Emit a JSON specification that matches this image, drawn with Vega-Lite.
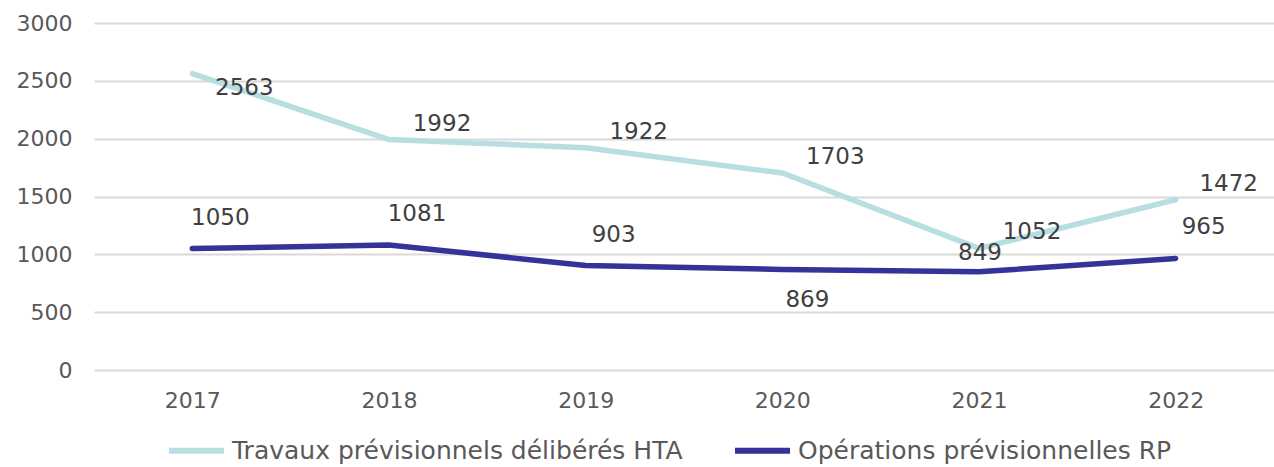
{
  "$schema": "https://vega.github.io/schema/vega-lite/v6.json",
  "autosize": "none",
  "padding": {"left": 94, "top": 23, "right": 0, "bottom": 97},
  "width": 1180,
  "height": 347,
  "background": "white",
  "config": {"view": {"stroke": null}},
  "data": {"values": [
    {"year": "2017", "series": "Travaux prévisionnels délibérés HTA", "value": 2563},
    {"year": "2018", "series": "Travaux prévisionnels délibérés HTA", "value": 1992},
    {"year": "2019", "series": "Travaux prévisionnels délibérés HTA", "value": 1922},
    {"year": "2020", "series": "Travaux prévisionnels délibérés HTA", "value": 1703},
    {"year": "2021", "series": "Travaux prévisionnels délibérés HTA", "value": 1052},
    {"year": "2022", "series": "Travaux prévisionnels délibérés HTA", "value": 1472},
    {"year": "2017", "series": "Opérations prévisionnelles RP", "value": 1050},
    {"year": "2018", "series": "Opérations prévisionnelles RP", "value": 1081},
    {"year": "2019", "series": "Opérations prévisionnelles RP", "value": 903},
    {"year": "2020", "series": "Opérations prévisionnelles RP", "value": 869},
    {"year": "2021", "series": "Opérations prévisionnelles RP", "value": 849},
    {"year": "2022", "series": "Opérations prévisionnelles RP", "value": 965}
  ]},
  "encoding": {
    "x": {"field": "year", "type": "ordinal", "scale": {"type": "point", "padding": 0.5},
      "axis": {"title": null, "domain": false, "ticks": false, "grid": false, "labelAngle": 0,
        "labelFont": "DejaVu Sans", "labelFontSize": 22, "labelColor": "#595959", "labelPadding": 20}},
    "y": {"field": "value", "type": "quantitative", "scale": {"domain": [0, 3000]},
      "axis": {"title": null, "domain": false, "ticks": false, "values": [0, 500, 1000, 1500, 2000, 2500, 3000],
        "format": "d", "gridColor": "#d9d9d9", "gridWidth": 2, "labelFont": "DejaVu Sans", "labelFontSize": 22,
        "labelColor": "#595959", "labelPadding": 22}}
  },
  "layer": [
    {"mark": {"type": "line", "strokeWidth": 5.5, "strokeCap": "round"},
      "encoding": {
        "color": {"field": "series", "type": "nominal",
          "scale": {"domain": ["Travaux prévisionnels délibérés HTA", "Opérations prévisionnelles RP"], "range": ["#b7dfe2", "#333399"]},
          "legend": {"title": null, "orient": "none", "legendX": 72, "legendY": 397, "direction": "horizontal",
            "symbolType": "stroke", "symbolStrokeWidth": 6, "symbolSize": 3025,
            "labelFont": "DejaVu Sans", "labelFontSize": 25, "labelColor": "#595959", "labelLimit": 700,
            "columnPadding": 40, "labelOffset": 5}
        }
      }
    },
    {"transform": [{"filter": "datum.series === 'Travaux prévisionnels délibérés HTA' && datum.year !== '2017'"}],
      "mark": {"type": "text", "dx": 53, "dy": -16, "baseline": "middle", "font": "DejaVu Sans", "fontSize": 23, "color": "#404040"},
      "encoding": {"text": {"field": "value", "type": "quantitative"}}},
    {"transform": [{"filter": "datum.series === 'Travaux prévisionnels délibérés HTA' && datum.year === '2017'"}],
      "mark": {"type": "text", "dx": 52, "dy": 14, "baseline": "middle", "font": "DejaVu Sans", "fontSize": 23, "color": "#404040"},
      "encoding": {"text": {"field": "value", "type": "quantitative"}}},
    {"transform": [{"filter": "datum.series === 'Opérations prévisionnelles RP' && datum.year !== '2020' && datum.year !== '2021'"}],
      "mark": {"type": "text", "dx": 28, "dy": -31, "baseline": "middle", "font": "DejaVu Sans", "fontSize": 23, "color": "#404040"},
      "encoding": {"text": {"field": "value", "type": "quantitative"}}},
    {"transform": [{"filter": "datum.series === 'Opérations prévisionnelles RP' && datum.year === '2020'"}],
      "mark": {"type": "text", "dx": 25, "dy": 31, "baseline": "middle", "font": "DejaVu Sans", "fontSize": 23, "color": "#404040"},
      "encoding": {"text": {"field": "value", "type": "quantitative"}}},
    {"transform": [{"filter": "datum.series === 'Opérations prévisionnelles RP' && datum.year === '2021'"}],
      "mark": {"type": "text", "dx": 1, "dy": -19, "baseline": "middle", "font": "DejaVu Sans", "fontSize": 23, "color": "#404040"},
      "encoding": {"text": {"field": "value", "type": "quantitative"}}}
  ]
}
